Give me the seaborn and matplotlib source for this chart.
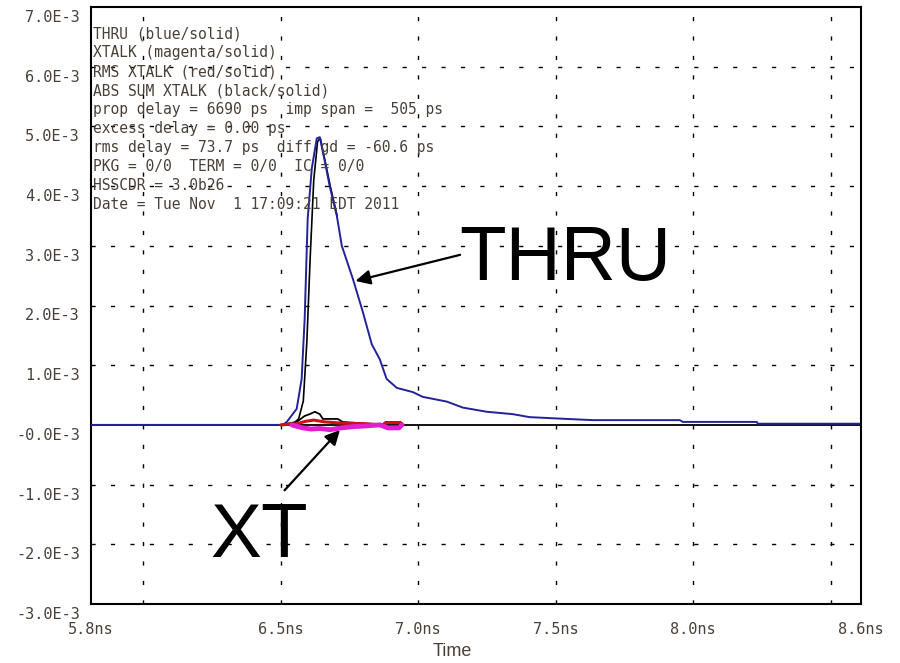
import matplotlib
matplotlib.use("Agg")
import matplotlib.pyplot as plt
import matplotlib.transforms as mtransforms
from matplotlib.ticker import FixedLocator
import seaborn as sns

# THRU (blue) - time in ns, amplitude in units of 1E-3
thru_t = [5.81, 6.40, 6.507, 6.522, 6.558, 6.576, 6.587, 6.598, 6.613, 6.631, 6.642,
          6.660, 6.678, 6.704, 6.722, 6.762, 6.798, 6.831, 6.860, 6.885, 6.922,
          6.980, 7.016, 7.104, 7.162, 7.249, 7.344, 7.405, 7.540, 7.635, 7.951,
          7.962, 8.231, 8.235, 8.605]
thru_v = [0.0, 0.0, 0.0, 0.05, 0.27, 0.77, 1.78, 3.46, 4.30, 4.80, 4.82,
          4.42, 4.00, 3.50, 3.00, 2.45, 1.90, 1.35, 1.10, 0.77, 0.62,
          0.55, 0.47, 0.39, 0.29, 0.22, 0.18, 0.13, 0.10, 0.08, 0.08,
          0.05, 0.05, 0.02, 0.02]

# black trace riding along the THRU edge
edge_t = [6.540, 6.565, 6.582, 6.595, 6.607, 6.620, 6.634, 6.644, 6.662, 6.680, 6.705]
edge_v = [0.0, 0.10, 0.40, 1.40, 2.80, 4.10, 4.75, 4.80, 4.40, 4.00, 3.50]

# ABS SUM XTALK (black)
abs_t = [6.50, 6.558, 6.587, 6.605, 6.624, 6.642, 6.653, 6.707, 6.725, 6.750, 6.824,
         6.871, 6.882, 6.933, 6.944]
abs_v = [0.0, 0.05, 0.15, 0.18, 0.22, 0.18, 0.10, 0.10, 0.05, 0.04, 0.02,
         0.01, 0.05, 0.05, 0.0]

# RMS XTALK (red)
rms_t = [6.50, 6.56, 6.59, 6.62, 6.66, 6.72, 6.80, 6.87, 6.885, 6.935, 6.945]
rms_v = [0.0, 0.02, 0.06, 0.08, 0.05, 0.03, 0.02, 0.0, 0.04, 0.04, 0.0]

# XTALK (magenta)
xt_t = [6.54, 6.555, 6.58, 6.61, 6.64, 6.68, 6.72, 6.76, 6.80, 6.86, 6.89, 6.93, 6.94]
xt_v = [0.0, -0.02, -0.05, -0.07, -0.06, -0.08, -0.05, -0.03, -0.02, 0.0, -0.05, -0.05, 0.0]

x_grid = [6.0, 6.5, 7.0, 7.5, 8.0, 8.5]
x_ticks = [5.81, 6.5, 7.0, 7.5, 8.0, 8.61]
x_labels = ["5.8ns", "6.5ns", "7.0ns", "7.5ns", "8.0ns", "8.6ns"]
y_grid = [-2, -1, 1, 2, 3, 4, 5, 6]
y_ticks = [7, 6, 5, 4, 3, 2, 1, 0, -1, -2, -3]
y_labels = ["7.0E-3", "6.0E-3", "5.0E-3", "4.0E-3", "3.0E-3", "2.0E-3", "1.0E-3",
            "-0.0E-3", "-1.0E-3", "-2.0E-3", "-3.0E-3"]

info_lines = [
    "THRU (blue/solid)",
    "XTALK (magenta/solid)",
    "RMS XTALK (red/solid)",
    "ABS SUM XTALK (black/solid)",
    "prop delay = 6690 ps  imp span =  505 ps",
    "excess delay = 0.00 ps",
    "rms delay = 73.7 ps  diff gd = -60.6 ps",
    "PKG = 0/0  TERM = 0/0  IC = 0/0",
    "HSSCDR = 3.0b26",
    "Date = Tue Nov  1 17:09:21 EDT 2011",
]

sns.set_style("white")
plt.rcParams['font.family'] = ['Liberation Sans', 'DejaVu Sans']
mono = "DejaVu Sans Mono"
txt_color = "#4a4038"

fig = plt.figure(figsize=(9, 6.63), dpi=100)
ax = fig.add_axes([91 / 900, 1 - 604 / 663, 770 / 900, 597 / 663])

# dashed grid
for gx in x_grid:
    ax.axvline(gx, color="black", lw=1.0, linestyle=(0, (3, 11)), zorder=1)
for gy in y_grid:
    ax.axhline(gy, color="black", lw=1.0, linestyle=(0, (3, 11)), zorder=1)

ax.axhline(0, color="black", lw=1.3, zorder=2)

sns.lineplot(x=edge_t, y=edge_v, color="black", lw=1.2, ax=ax, zorder=3)
sns.lineplot(x=thru_t, y=thru_v, color="#22229a", lw=1.4, ax=ax, zorder=4)
sns.lineplot(x=abs_t, y=abs_v, color="black", lw=1.3, ax=ax, zorder=3)
sns.lineplot(x=rms_t, y=rms_v, color="#d01010", lw=2.2, ax=ax, zorder=4)
sns.lineplot(x=xt_t, y=xt_v, color="#e020d0", lw=3.5, ax=ax, zorder=5)

ax.set_xlim(5.81, 8.61)
ax.set_ylim(-3, 7)

ax.xaxis.set_major_locator(FixedLocator(x_ticks))
ax.set_xticklabels(x_labels, family=mono)
ax.yaxis.set_major_locator(FixedLocator(y_ticks))
ax.set_yticklabels(y_labels, family=mono)
ax.tick_params(axis="x", length=0, pad=13, labelsize=11, labelcolor=txt_color)
ax.tick_params(axis="y", length=0, pad=8, labelsize=11, labelcolor=txt_color)
shift = mtransforms.ScaledTranslation(0, -9 / 100, fig.dpi_scale_trans)
for lab in ax.get_yticklabels():
    lab.set_transform(lab.get_transform() + shift)

ax.set_xlabel("Time", fontsize=13, color=txt_color)
ax.xaxis.set_label_coords((452 - 91) / 770, -0.066)
ax.set_ylabel("")

for sp in ax.spines.values():
    sp.set_color("black")
    sp.set_linewidth(1.5)

for i, line in enumerate(info_lines):
    ax.text(2 / 770, 1 - (34 + 18.9 * i - 7) / 597, line, transform=ax.transAxes,
            fontsize=10.5, family=mono, color=txt_color, va="center", ha="left", zorder=6)

ax.text(7.148, 2.42, "THRU", fontsize=55, ha="left", va="baseline", color="black", zorder=6)
ax.text(6.245, -2.22, "XT", fontsize=55, ha="left", va="baseline", color="black", zorder=6)

ax.annotate("", xy=(6.762, 2.40), xytext=(7.162, 2.86),
            arrowprops=dict(arrowstyle="-|>", color="black", lw=1.6, mutation_scale=22))
ax.annotate("", xy=(6.722, -0.05), xytext=(6.507, -1.13),
            arrowprops=dict(arrowstyle="-|>", color="black", lw=1.6, mutation_scale=22))

fig.savefig("out.png", dpi=100)
